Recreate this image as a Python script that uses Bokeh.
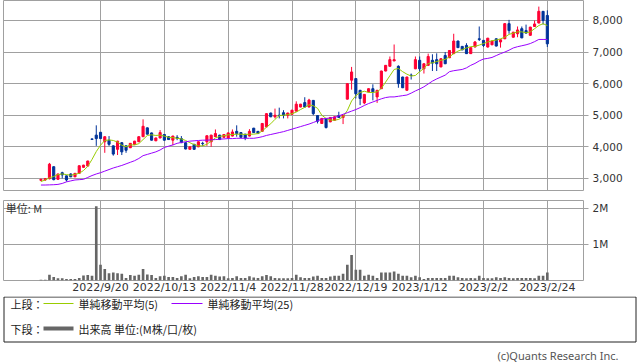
from bokeh.plotting import figure
from bokeh.layouts import column
from bokeh.models import Range1d, FixedTicker, NumeralTickFormatter, Label, ColumnDataSource
from bokeh.embed import file_html
from bokeh.resources import INLINE

# ---------------- data ----------------
opens = [2940, 2950, 2990, 3370, 2970, 3180, 3080, 3140, 3050, 3160,
         3350, 3390, 4250, 4370, 4460, 4160, 4210, 4030, 3920, 4130,
         4030, 3970, 4070, 4160, 4320, 4600, 4440, 4190, 4280, 4390,
         4320, 4210, 4300, 4260, 4130, 3920, 4080, 4000, 4110, 4160,
         4160, 4320, 4370, 4300, 4280, 4340, 4490, 4450, 4400, 4340,
         4590, 4490, 4490, 4630, 5070, 4950, 5000, 5080, 5000, 5030,
         5130, 5260, 5400, 5260, 5470, 4990, 4740, 4890, 4790, 4840,
         4990, 4930, 5510, 6110, 6160, 5790, 5390, 5740, 5840, 5580,
         5840, 6400, 6550, 6720, 6550, 6210, 5790, 6270, 6470, 6740,
         6470, 6580, 6740, 6760, 6530, 6890, 6820, 6950, 7350, 7180,
         7210, 6950, 7160, 7420, 7370, 7160, 7230, 7420, 7320, 7420,
         7900, 7470, 7580, 7740, 7680, 7530, 7810, 7920, 8290, 8160]
highs = [2990, 3010, 3490, 3380, 3150, 3210, 3090, 3160, 3170, 3410,
         3430, 3560, 4260, 4680, 4470, 4330, 4340, 4040, 4190, 4150,
         4040, 4120, 4190, 4330, 4870, 4610, 4450, 4290, 4530, 4400,
         4330, 4350, 4370, 4340, 4140, 4010, 4090, 4170, 4160, 4360,
         4380, 4550, 4380, 4400, 4450, 4550, 4680, 4460, 4410, 4560,
         4600, 4500, 4750, 5060, 5080, 5210, 5240, 5160, 5080, 5170,
         5440, 5360, 5570, 5520, 5480, 5000, 4910, 4900, 4940, 4960,
         5110, 5010, 6010, 6530, 6170, 5800, 5670, 5850, 5980, 5800,
         6410, 6590, 6860, 7240, 6580, 6220, 6220, 6320, 6860, 6860,
         6640, 6950, 6930, 6960, 6800, 7000, 7060, 7580, 7360, 7190,
         7280, 7150, 7350, 7810, 7380, 7450, 7360, 7430, 7400, 7920,
         8020, 7640, 7810, 7810, 7870, 7800, 8000, 8440, 8300, 8320]
lows = [2910, 2920, 2970, 2940, 2950, 3000, 2900, 3040, 3040, 3150,
        3340, 3380, 4230, 4030, 4250, 3810, 4030, 3720, 3740, 3740,
        3810, 3960, 4060, 4150, 4310, 4390, 4200, 4180, 4270, 4200,
        4220, 4050, 4210, 4120, 3920, 3910, 3910, 3990, 4030, 4030,
        4000, 4310, 4220, 4290, 4270, 4330, 4320, 4290, 4210, 4330,
        4440, 4410, 4480, 4620, 4940, 4900, 4900, 4900, 4900, 5020,
        5120, 5250, 5250, 5250, 5000, 4740, 4730, 4580, 4780, 4830,
        4920, 4720, 5500, 5810, 5530, 5320, 5350, 5730, 5470, 5390,
        5830, 6390, 6540, 6710, 5870, 5860, 5780, 6130, 6460, 6370,
        6320, 6570, 6400, 6400, 6520, 6620, 6810, 6940, 7130, 7060,
        6940, 6940, 7150, 7350, 7160, 7140, 7220, 7180, 7140, 7410,
        7580, 7460, 7470, 7440, 7590, 7520, 7800, 7910, 7870, 7160]
closes = [2970, 2990, 3450, 2960, 3140, 3110, 2950, 3050, 3160, 3400,
          3420, 3550, 4235, 4260, 4260, 4320, 4080, 3770, 4180, 3840,
          3890, 4110, 4180, 4320, 4650, 4400, 4210, 4280, 4450, 4210,
          4230, 4340, 4270, 4130, 3930, 4000, 3920, 4160, 4100, 4350,
          4370, 4420, 4230, 4390, 4440, 4470, 4420, 4300, 4280, 4490,
          4450, 4420, 4740, 5050, 4950, 5000, 4990, 5000, 5070, 5160,
          5350, 5350, 5260, 5480, 5050, 4810, 4900, 4610, 4930, 4950,
          4930, 5000, 6000, 6370, 5680, 5530, 5660, 5840, 5740, 5790,
          6400, 6580, 6760, 6760, 6000, 5870, 6210, 6260, 6760, 6470,
          6630, 6860, 6650, 6630, 6790, 6630, 7050, 7350, 7140, 7070,
          6950, 7140, 7320, 7400, 7210, 7440, 7350, 7190, 7390, 7900,
          7680, 7630, 7700, 7450, 7600, 7790, 7890, 8290, 8000, 7260]
ma5 = [2900, 2950, 3020, 3060, 3120, 3140, 3120, 3100, 3130, 3160,
       3250, 3380, 3600, 3850, 4050, 4200, 4220, 4200, 4150, 4050,
       4000, 4060, 4060, 4100, 4230, 4360, 4380, 4360, 4370, 4340,
       4300, 4290, 4270, 4250, 4200, 4130, 4070, 4030, 4030, 4080,
       4180, 4280, 4330, 4350, 4380, 4390, 4400, 4400, 4390, 4400,
       4400, 4420, 4500, 4620, 4730, 4870, 4990, 5000, 5020, 5050,
       5100, 5180, 5250, 5330, 5300, 5220, 5000, 4900, 4850, 4840,
       4870, 4950, 5150, 5450, 5620, 5720, 5760, 5720, 5720, 5740,
       5850, 6050, 6250, 6450, 6480, 6380, 6300, 6240, 6260, 6380,
       6480, 6640, 6660, 6700, 6740, 6770, 6850, 6950, 7030, 7080,
       7130, 7170, 7180, 7220, 7270, 7320, 7360, 7380, 7420, 7470,
       7560, 7600, 7640, 7640, 7610, 7640, 7740, 7840, 7900, 7840]
ma25 = [2790, 2790, 2795, 2800, 2810, 2840, 2890, 2920, 2950, 2960,
        2970, 3030, 3090, 3140, 3180, 3230, 3280, 3330, 3370, 3410,
        3460, 3510, 3560, 3630, 3720, 3760, 3800, 3840, 3900, 3980,
        4020, 4060, 4110, 4140, 4160, 4180, 4190, 4200, 4210, 4210,
        4220, 4230, 4240, 4250, 4260, 4260, 4270, 4270, 4270, 4270,
        4270, 4290, 4320, 4360, 4390, 4420, 4450, 4480, 4520, 4560,
        4600, 4640, 4680, 4720, 4770, 4820, 4880, 4900, 4910, 4930,
        4980, 5030, 5080, 5130, 5180, 5240, 5310, 5370, 5420, 5470,
        5520, 5560, 5580, 5580, 5600, 5620, 5640, 5700, 5770, 5830,
        5900, 5990, 6080, 6150, 6210, 6270, 6380, 6410, 6430, 6450,
        6500, 6580, 6640, 6720, 6780, 6800, 6830, 6890, 6950, 7000,
        7060, 7130, 7170, 7200, 7230, 7270, 7330, 7400, 7400, 7400]
volume_m = [0.02, 0.02, 0.16, 0.10, 0.06, 0.06, 0.04, 0.04, 0.04, 0.07,
            0.14, 0.15, 0.13, 2.06, 0.44, 0.32, 0.20, 0.22, 0.20, 0.19,
            0.07, 0.15, 0.13, 0.16, 0.32, 0.17, 0.15, 0.07, 0.12, 0.13,
            0.10, 0.10, 0.07, 0.12, 0.16, 0.06, 0.10, 0.12, 0.10, 0.10,
            0.16, 0.13, 0.11, 0.12, 0.06, 0.07, 0.12, 0.07, 0.07, 0.12,
            0.08, 0.07, 0.12, 0.15, 0.12, 0.07, 0.06, 0.06, 0.06, 0.07,
            0.16, 0.09, 0.07, 0.07, 0.11, 0.13, 0.07, 0.07, 0.11, 0.13,
            0.13, 0.19, 0.44, 0.71, 0.30, 0.30, 0.13, 0.16, 0.13, 0.07,
            0.22, 0.22, 0.22, 0.25, 0.19, 0.13, 0.13, 0.09, 0.13, 0.09,
            0.04, 0.07, 0.07, 0.07, 0.07, 0.07, 0.13, 0.13, 0.09, 0.07,
            0.06, 0.07, 0.06, 0.13, 0.07, 0.06, 0.06, 0.09, 0.07, 0.09,
            0.07, 0.06, 0.07, 0.07, 0.07, 0.07, 0.06, 0.13, 0.13, 0.22]
tick_index = [14, 29, 44, 59, 74, 89, 104, 119]
tick_labels = ["2022/9/20", "2022/10/13", "2022/11/4", "2022/11/28",
               "2022/12/19", "2023/1/12", "2023/2/2", "2023/2/24"]
price_ticks = [3000, 4000, 5000, 6000, 7000, 8000]
volume_ticks = [1, 2]
volume_tick_labels = ["1M", "2M"]

# ---------------- styles ----------------
RED = "#ff0033"
BLUE = "#003399"
MA5_COLOR = "#99cc00"
MA25_COLOR = "#9900ff"
VOL_COLOR = "#666666"
GRID = "#a0a0a0"
TXT = "#333333"
AX_FONT = "DejaVu Sans"
JP_FONT = "Noto Sans CJK JP"

n = len(opens)
xs = list(range(n))
colors = [RED if c >= o else BLUE for o, c in zip(opens, closes)]
src = ColumnDataSource(dict(
    x=xs, o=opens, h=highs, l=lows, c=closes,
    top=[max(o, c) for o, c in zip(opens, closes)],
    bottom=[min(o, c) for o, c in zip(opens, closes)],
    color=colors, ma5=ma5, ma25=ma25, vol=volume_m,
))

xr = Range1d(-8.8, 127.5)


def style_common(p):
    p.outline_line_color = GRID
    p.outline_line_width = 1
    p.background_fill_color = "white"
    p.border_fill_color = "white"
    p.xgrid.ticker = FixedTicker(ticks=tick_index)
    p.grid.grid_line_color = GRID
    p.grid.grid_line_width = 1
    ax = p.yaxis[0]
    ax.axis_line_color = None
    ax.major_tick_in = 0
    ax.major_tick_out = 5
    ax.major_tick_line_color = GRID
    ax.minor_tick_line_color = None
    ax.major_label_standoff = 4
    ax.major_label_text_font = AX_FONT
    ax.major_label_text_font_size = "10.5px"
    ax.major_label_text_color = TXT


# ---------------- price chart ----------------
p1 = figure(width=638, height=191, x_range=xr, y_range=Range1d(2585, 8633),
            output_backend="svg", toolbar_location=None,
            x_axis_location=None, y_axis_location="right",
            min_border_left=3, min_border_right=55,
            min_border_top=0, min_border_bottom=0)
style_common(p1)
p1.yaxis.ticker = FixedTicker(ticks=price_ticks)
p1.yaxis.formatter = NumeralTickFormatter(format="0,0")

p1.segment(x0="x", y0="l", x1="x", y1="h", line_color="color", line_width=1, source=src)
p1.vbar(x="x", width=0.5, top="top", bottom="bottom", fill_color="color",
        line_color="color", line_width=1, source=src)
p1.line("x", "ma5", line_color=MA5_COLOR, line_width=1, source=src)
p1.line("x", "ma25", line_color=MA25_COLOR, line_width=1, source=src)

# ---------------- volume chart ----------------
p2 = figure(width=638, height=105, x_range=xr, y_range=Range1d(0, 2.222),
            output_backend="svg", toolbar_location=None,
            x_axis_location="below", y_axis_location="right",
            min_border_left=3, min_border_right=55,
            min_border_top=9, min_border_bottom=16)
style_common(p2)
p2.yaxis.ticker = FixedTicker(ticks=volume_ticks)
p2.yaxis.major_label_overrides = {t: s for t, s in zip(volume_ticks, volume_tick_labels)}
xa = p2.xaxis[0]
xa.ticker = FixedTicker(ticks=tick_index)
xa.major_label_overrides = {t: s for t, s in zip(tick_index, tick_labels)}
xa.axis_line_color = None
xa.major_tick_in = 0
xa.major_tick_out = 0
xa.minor_tick_line_color = None
xa.major_label_standoff = 0
xa.major_label_text_font = AX_FONT
xa.major_label_text_font_size = "11px"
xa.major_label_text_color = TXT

p2.vbar(x="x", width=0.62, top="vol", bottom=0, fill_color=VOL_COLOR,
        line_color=None, source=src)
p2.add_layout(Label(x=-8.3, y=2.0, text="単位: M", text_baseline="middle",
                    text_font=JP_FONT, text_font_size="11px", text_color=TXT))

# ---------------- legend area (separate root so its frame is full width) ----------------
p3 = figure(width=638, height=66, x_range=Range1d(0, 638), y_range=Range1d(66, 0),
            output_backend="svg", toolbar_location=None,
            x_axis_location=None, y_axis_location=None,
            min_border_left=0, min_border_right=0, min_border_top=0, min_border_bottom=0)
p3.outline_line_color = None
p3.grid.visible = False
p3.quad(left=[3.5], right=[635.5], top=[0.5], bottom=[45.5], fill_color=None,
        line_color="#222222", line_width=1)
row1, row2 = 7, 32
p3.line([43, 73], [row1, row1], line_color=MA5_COLOR, line_width=1)
p3.line([171, 202], [row1, row1], line_color=MA25_COLOR, line_width=1)
p3.line([43, 73], [row2, row2], line_color=VOL_COLOR, line_width=4)
for x, y, t in [(10, row1, "上段："), (78, row1, "単純移動平均(5)"), (207, row1, "単純移動平均(25)"),
                (10, row2, "下段："), (78, row2, "出来高 単位:(M株/口/枚)")]:
    p3.add_layout(Label(x=x, y=y, text=t, text_baseline="middle", text_align="left",
                        text_font=JP_FONT, text_font_size="11px", text_color="#222222"))
p3.add_layout(Label(x=618, y=59, text="(c)Quants Research Inc.", text_baseline="middle",
                    text_align="right", text_font="Noto Sans", text_font_size="11px",
                    text_color="#555555"))

charts = column(p1, p2, spacing=0)

open("out.html", "w").write(file_html([charts, p3], INLINE))
